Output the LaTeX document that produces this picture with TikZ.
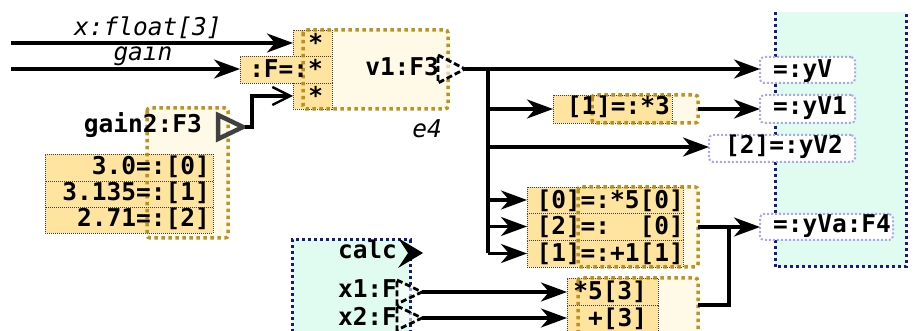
\documentclass[tikz,border=0pt]{standalone}
\usepackage{fontspec}
\setmonofont{DejaVu Sans Mono}
\usetikzlibrary{arrows.meta}
\definecolor{rowy}{HTML}{FFE4A0}
\definecolor{cream}{HTML}{FFF9E8}
\definecolor{ochre}{HTML}{B8860B}
\definecolor{mint}{HTML}{E0FBEF}
\definecolor{navy}{HTML}{18188A}
\definecolor{lav}{HTML}{A8A8F0}
\definecolor{portgray}{HTML}{404040}
\tikzset{
 box/.style={rectangle, inner sep=0pt, outer sep=0pt, anchor=north west},
 rowbox/.style={box, fill=rowy, draw=black!75, line width=0.9pt, dash pattern=on 1pt off 1pt},
 creamfill/.style={box, fill=cream},
 ochreborder/.style={draw=ochre, line width=3.5pt, dash pattern=on 3.5pt off 3.5pt, rounded corners=3pt, draw opacity=0.9},
 lavbox/.style={box, fill=white, draw=lav, line width=2pt, dash pattern=on 2pt off 2pt, rounded corners=4pt},
 navyline/.style={draw=navy, line width=3pt, dash pattern=on 3pt off 3pt},
 tx/.style={inner sep=0pt, outer sep=0pt, font=\ttfamily\bfseries\fontsize{24.5}{26}\selectfont},
 itx/.style={inner sep=0pt, outer sep=0pt, font=\ttfamily\itshape\fontsize{24.5}{26}\selectfont},
 conn/.style={line width=3.2pt, -{Stealth[length=26pt,width=19pt,inset=8pt]}},
 openconn/.style={line width=3.2pt, -{Straight Barb[length=18pt,width=18pt,line width=2.4pt]}},
 dport/.style={draw=black, line width=2.8pt, dash pattern=on 6pt off 3pt, fill=white, fill opacity=0.6},
}
\begin{document}
\begin{tikzpicture}[x=1pt,y=-1pt]
\useasboundingbox (0,0) rectangle (914,331);
\clip (0,0) rectangle (914,331);

% output group region
\fill[mint] (775,12) rectangle (906,267);
\draw[navyline] (775,12) -- (775,267) -- (906,267) -- (906,12);

% calc box
\node[box, fill=mint, minimum width=118, minimum height=110] (calc) at (292,240) {};
\draw[navyline] (calc.south west) -- (calc.north west) -- (calc.north east) -- (calc.south east);

% cream boxes
\node[creamfill, minimum width=145, minimum height=79] (v1box) at (303,30) {};
\node[creamfill, minimum width=81, minimum height=130] (g2box) at (147,108) {};
\node[creamfill, minimum width=106, minimum height=28] (m1box) at (592,95) {};
\node[creamfill, minimum width=120, minimum height=80] (gbox) at (578,187) {};
\node[creamfill, minimum width=120, minimum height=70] (hbox) at (578,278) {};

% yellow rows
\node[rowbox, minimum width=39, minimum height=26] (s1) at (293,30) {};
\node[rowbox, minimum width=92, minimum height=27] (s2) at (240,56) {};
\node[rowbox, minimum width=39, minimum height=26] (s3) at (293,83) {};
\node[rowbox, minimum width=168, minimum height=27] (c0) at (45,154) {};
\node[rowbox, minimum width=168, minimum height=26] (c1) at (45,181) {};
\node[rowbox, minimum width=168, minimum height=26] (c2) at (45,207) {};
\node[rowbox, minimum width=119, minimum height=28] (m1) at (553,95) {};
\node[rowbox, minimum width=156, minimum height=26] (g0) at (527,187) {};
\node[rowbox, minimum width=156, minimum height=27] (g1) at (527,213) {};
\node[rowbox, minimum width=156, minimum height=27] (g2) at (527,240) {};
\node[rowbox, minimum width=91, minimum height=27] (h0) at (567,278) {};
\node[rowbox, minimum width=91, minimum height=27] (h1) at (567,305) {};

% ochre borders
\draw[ochreborder] (v1box.north west) rectangle (v1box.south east);
\draw[ochreborder] (g2box.north west) rectangle (g2box.south east);
\draw[ochreborder] (m1box.north west) rectangle (m1box.south east);
\draw[ochreborder] (gbox.north west) rectangle (gbox.south east);
\draw[ochreborder] (hbox.north west) rectangle (hbox.south east);

% output boxes
\node[lavbox, minimum width=95, minimum height=26] (yV) at (760,57) {};
\node[lavbox, minimum width=95, minimum height=28] (yV1) at (760,95) {};
\node[lavbox, minimum width=146, minimum height=27] (yV2) at (709,135) {};
\node[lavbox, minimum width=133, minimum height=26] (yVa) at (760,214) {};

% texts
\node[tx, anchor=base east] (ts1) at (323,52) {*};
\node[tx, anchor=base east] (ts2) at (323,78) {:F=:*};
\node[tx, anchor=base east] (ts3) at (323,105) {*};
\node[tx, anchor=base east] (tv1) at (439,76) {v1:F3};
\node[itx, anchor=base] (te4) at (427,138) {e4};
\node[tx, anchor=base east] (tg2) at (202,133) {gain2:F3};
\node[tx, anchor=base east] (tc0) at (210,175) {3.0=:[0]};
\node[tx, anchor=base east] (tc1) at (210,201) {3.135=:[1]};
\node[tx, anchor=base east] (tc2) at (210,227) {2.71=:[2]};
\node[tx, anchor=base east] (tm1) at (670,115) {[1]=:*3};
\node[tx, anchor=base east] (tg0) at (684,209) {[0]=:*5[0]};
\node[tx, anchor=base east] (tg1) at (684,235) {[2]=:\phantom{*5}[0]};
\node[tx, anchor=base east] (tg2b) at (684,262) {[1]=:+1[1]};
\node[tx, anchor=base east] (th0) at (647,300) {*5[3]};
\node[tx, anchor=base east] (th1) at (647,327) {+[3]};
\node[tx, anchor=base west] (tyV) at (773,78) {=:yV};
\node[tx, anchor=base west] (tyV1) at (773,115) {=:yV1};
\node[tx, anchor=base west] (tyV2) at (725,154) {[2]=:yV2};
\node[tx, anchor=base west] (tyVa) at (773,233) {=:yVa:F4};
\node[tx, anchor=base east] (tcalc) at (397,259) {calc};
\node[tx, anchor=base east] (tx1) at (397,298) {x1:F};
\node[tx, anchor=base east] (tx2) at (397,326) {x2:F};
\node[itx, anchor=base] (lx) at (148,36) {x:float[3]};
\node[itx, anchor=base] (lg) at (143,61) {gain};

% ports
\draw[dport] (438,55) -- (465,69) -- (438,83) -- cycle;
\coordinate (v1out) at (465,69);
\draw[draw=portgray, line width=4.5pt, line join=miter] (218,115) -- (243,127) -- (218,139) -- cycle;
\coordinate (g2out) at (245,127);
\fill[black] (423,253) -- (398,238) -- (408,253) -- (398,268) -- cycle;
\draw[dport] (397,280) -- (422,292) -- (397,304) -- cycle;
\coordinate (x1out) at (422,292);
\draw[dport] (397,306) -- (422,318) -- (397,330) -- cycle;
\coordinate (x2out) at (422,318);

% inputs
\coordinate (in1) at (11,43);
\coordinate (in2) at (11,69);
\draw[conn] (in1) -- (in1 -| s1.west);
\draw[conn] (in2) -- (in2 -| s2.west);
\draw[openconn] (g2out) -- (252,127) |- (s3.west);

% v1 outputs
\coordinate (j) at (488,69);
\draw[conn] (v1out) -- (v1out -| yV.west);
\draw[line width=3.2pt] (j) -- (488,253);
\draw[conn] (j |- m1.west) -- (m1.west);
\draw[conn] (m1box.east) -- (m1box.east -| yV1.west);
\draw[conn] (488,147) -- (488,147 -| yV2.west);
\draw[conn] (j |- g0.west) -- (g0.west);
\draw[conn] (j |- g1.west) -- (g1.west);
\draw[conn] (j |- g2.west) -- (g2.west);

% group outputs
\coordinate (k) at (729,227);
\draw[conn] (gbox.east |- k) -- (yVa.west |- k);
\draw[line width=3.2pt] (k) -- (729,305) -- (hbox.east |- h1.north);

% calc outputs
\draw[conn] (x1out) -- (x1out -| h0.west);
\draw[conn] (x2out) -- (x2out -| h1.west);
\end{tikzpicture}
\end{document}
